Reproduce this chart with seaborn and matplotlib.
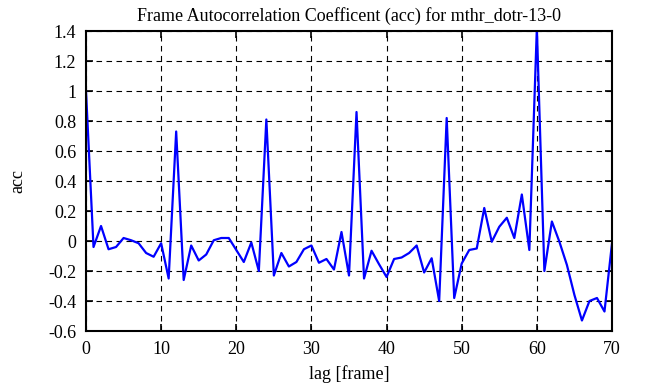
import matplotlib
matplotlib.use("Agg")
import matplotlib.pyplot as plt
import seaborn as sns
import pandas as pd
import numpy as np

lags = list(range(71))
acc = [1.00, -0.04, 0.10, -0.055, -0.04, 0.02, 0.005, -0.015, -0.08, -0.105,
       -0.015, -0.25, 0.73, -0.26, -0.03, -0.13, -0.09, 0.005, 0.02, 0.02,
       -0.06, -0.14, -0.01, -0.20, 0.81, -0.23, -0.08, -0.17, -0.14, -0.055,
       -0.03, -0.145, -0.12, -0.19, 0.06, -0.23, 0.86, -0.25, -0.065, -0.155,
       -0.24, -0.12, -0.11, -0.08, -0.03, -0.21, -0.115, -0.40, 0.82, -0.38,
       -0.15, -0.06, -0.05, 0.22, -0.005, 0.095, 0.155, 0.02, 0.31, -0.06,
       1.42, -0.20, 0.13, -0.005, -0.16, -0.36, -0.53, -0.40, -0.38, -0.47,
       -0.015]
xticks = [0, 10, 20, 30, 40, 50, 60, 70]
yticks = [1.4, 1.2, 1.0, 0.8, 0.6, 0.4, 0.2, 0.0, -0.2, -0.4, -0.6]
ytick_labels = ["1.4", "1.2", "1", "0.8", "0.6", "0.4", "0.2", "0", "-0.2", "-0.4", "-0.6"]

df = pd.DataFrame({"lag": lags, "acc": acc})

sns.set_theme(style="white")
plt.rcParams['font.family'] = ['Liberation Serif', 'DejaVu Serif']
plt.rcParams['axes.unicode_minus'] = False

fs = 13
fig = plt.figure(figsize=(6.46, 3.87), dpi=100)
ax = fig.add_axes([86/646, 1 - 331/387, (612-86)/646, (331-31)/387])

sns.lineplot(data=df, x="lag", y="acc", ax=ax, color=(0, 0, 1), linewidth=1.6)

ax.set_xlim(0, 70)
ax.set_ylim(-0.6, 1.4)
ax.set_xticks(xticks)
ax.set_xticklabels([str(t) for t in xticks])
ax.set_yticks(yticks)
ax.set_yticklabels(ytick_labels)
ax.grid(True, color="black", linestyle=(0, (5, 4)), linewidth=0.8)
ax.tick_params(direction="in", length=5, width=1.2, colors="black",
               labelsize=fs, top=True, right=True, bottom=True, left=True,
               pad=7)
for s in ax.spines.values():
    s.set_color("black")
    s.set_linewidth(1.5)

ax.set_xlabel("lag [frame]", fontsize=fs, color="black", labelpad=5)
ax.set_ylabel("acc", fontsize=fs, color="black", labelpad=16)
ax.set_title("Frame Autocorrelation Coefficent (acc) for mthr_dotr-13-0",
             fontsize=fs, color="black", pad=7)

fig.savefig("out.png", dpi=100, facecolor="white")
